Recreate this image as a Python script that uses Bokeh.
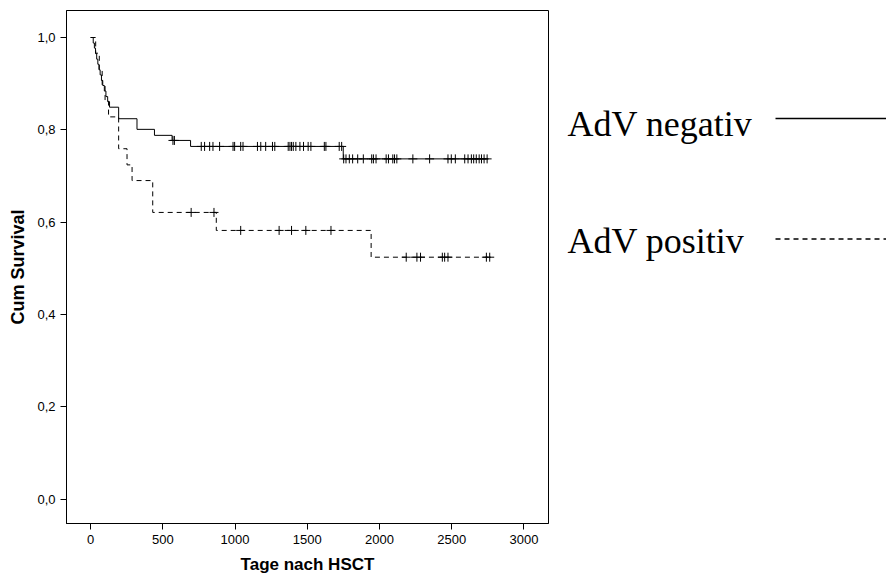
import numpy as np
from bokeh.plotting import figure
from bokeh.layouts import row
from bokeh.models import Range1d, FixedTicker, CustomJSTickFormatter
from bokeh.core.properties import value
from bokeh.embed import file_html
from bokeh.resources import INLINE

# ---- data (Kaplan-Meier, days after HSCT) ----
neg_label = "AdV negativ"
neg_times = [0, 18, 26, 34, 42, 50, 58, 66, 75, 84, 95, 106, 118, 131, 194, 321, 442, 564, 692, 1749]
neg_surv = [1.0, 0.988, 0.977, 0.965, 0.953, 0.942, 0.930, 0.919, 0.907, 0.896, 0.884, 0.872, 0.861,
            0.849, 0.824, 0.801, 0.788, 0.777, 0.764, 0.737]
neg_last_day = 2752
neg_censored = [570, 580, 766, 789, 824, 847, 893, 986, 997, 1039, 1055, 1155, 1178, 1212, 1259, 1275,
                1368, 1380, 1391, 1403, 1421, 1449, 1474, 1506, 1525, 1618, 1629, 1721, 1738,
                1752, 1768, 1791, 1814, 1849, 1888, 1946, 1958, 1976, 2046, 2062, 2092, 2104, 2120,
                2231, 2347, 2474, 2497, 2525, 2590, 2613, 2636, 2652, 2670, 2690, 2706, 2724, 2745]

pos_label = "AdV positiv"
pos_times = [0, 35, 60, 80, 100, 124, 194, 252, 287, 430, 870, 1942]
pos_surv = [1.0, 0.966, 0.931, 0.897, 0.862, 0.828, 0.759, 0.724, 0.690, 0.621, 0.582, 0.524]
pos_last_day = 2766
pos_censored = [696, 854, 1039, 1305, 1391, 1490, 1664, 2185, 2259, 2284, 2435, 2451, 2474, 2740, 2763]

x_ticks = [0, 500, 1000, 1500, 2000, 2500, 3000]
y_ticks = [0.0, 0.2, 0.4, 0.6, 0.8, 1.0]
x_title = "Tage nach HSCT"
y_title = "Cum Survival"


def level_at(times, surv, t):
    idx = np.searchsorted(np.asarray(times), np.asarray(t), side="right") - 1
    return list(np.asarray(surv)[idx])


p = figure(width=550, height=579, output_backend="svg", toolbar_location=None,
           x_range=Range1d(-167, 3170), y_range=Range1d(-0.053, 1.0585),
           min_border_left=66, min_border_right=2, min_border_top=10, min_border_bottom=56,
           background_fill_color="white", border_fill_color="white")

p.xgrid.grid_line_color = None
p.ygrid.grid_line_color = None
p.outline_line_color = "black"
p.outline_line_width = 1
p.outline_line_alpha = 1.0

for ax in (p.xaxis, p.yaxis):
    ax.axis_line_color = "black"
    ax.major_tick_line_color = "black"
    ax.minor_tick_line_color = None
    ax.major_tick_in = 0
    ax.major_tick_out = 6
    ax.major_label_text_font = "Liberation Sans"
    ax.major_label_text_font_size = "13px"
    ax.major_label_text_color = "black"
    ax.axis_label_text_font = "Liberation Sans"
    ax.axis_label_text_font_style = "bold"
    ax.axis_label_text_color = "black"
    ax.major_label_standoff = 5

p.xaxis.axis_label_text_font_size = "17px"
p.yaxis.axis_label_text_font_size = "18px"
p.xaxis.axis_label_standoff = 8
p.yaxis.axis_label_standoff = 6
p.xaxis.ticker = FixedTicker(ticks=x_ticks)
p.yaxis.ticker = FixedTicker(ticks=y_ticks)
p.yaxis.formatter = CustomJSTickFormatter(code="return tick.toFixed(1).replace('.', ',');")
p.xaxis.axis_label = x_title
p.yaxis.axis_label = y_title

# negative group: solid
p.step(neg_times + [neg_last_day], neg_surv + [neg_surv[-1]], mode="after",
       line_color="black", line_width=1)
p.scatter(neg_censored, level_at(neg_times, neg_surv, neg_censored), marker="cross",
          size=9, line_color="black", line_width=1)

# positive group: dashed
p.step(pos_times + [pos_last_day], pos_surv + [pos_surv[-1]], mode="after",
       line_color="black", line_width=1, line_dash="5 4")
p.scatter(pos_censored, level_at(pos_times, pos_surv, pos_censored), marker="cross",
          size=9, line_color="black", line_width=1)

# ---- legend panel to the right (pixel-like coordinates, y measured from top) ----
lg = figure(width=336, height=579, output_backend="svg", toolbar_location=None,
            x_axis_type=None, y_axis_type=None,
            x_range=Range1d(0, 336), y_range=Range1d(579, 0),
            min_border=0, min_border_left=0, min_border_right=0, min_border_top=0, min_border_bottom=0,
            background_fill_color="white", border_fill_color="white")
lg.xgrid.grid_line_color = None
lg.ygrid.grid_line_color = None
lg.outline_line_color = None

lg.text(x=[17, 17], y=[128, 260], text=[neg_label, pos_label],
        text_font=value("Liberation Serif"), text_font_size="36px",
        text_baseline="middle", text_align="left", text_color="black")
lg.line(x=[225, 336], y=[122, 122], line_color="black", line_width=1.5)
lg.line(x=[225, 336], y=[258, 258], line_color="black", line_width=1.5, line_dash="5 4")

layout = row(p, lg)
open("out.html", "w").write(file_html(layout, INLINE))
